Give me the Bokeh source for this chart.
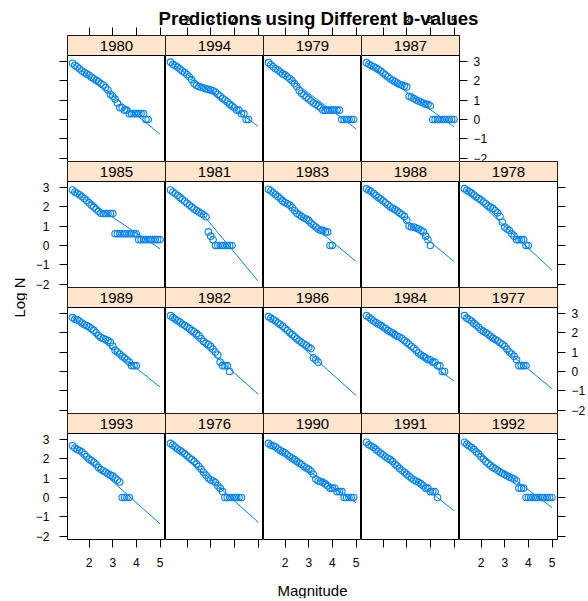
import math
from bokeh.plotting import figure
from bokeh.layouts import row, column
from bokeh.models import Range1d, FixedTicker, LinearAxis, BoxAnnotation, Label
from bokeh.embed import file_html
from bokeh.resources import INLINE

# ---------------- data ----------------
MAG = [1.3, 1.4, 1.5, 1.6, 1.7, 1.8, 1.9, 2.0, 2.1, 2.2, 2.3, 2.4, 2.5, 2.6, 2.7,
       2.8, 2.9, 3.0, 3.1, 3.2, 3.3, 3.4, 3.5, 3.6, 3.7, 3.8, 3.9, 4.0, 4.1, 4.2,
       4.3, 4.4, 4.5, 4.6, 4.7, 4.8, 4.9, 5.0]

logn_1980 = [2.9, 2.8, 2.72, 2.62, 2.5, 2.42, 2.35, 2.28, 2.18, 2.1, 2.02, 1.95, 1.85, 1.78,
             1.65, 1.52, 1.3, 1.2, 1.05, 0.85, 0.6, 0.6, 0.48, 0.48, 0.3, 0.3, 0.3, 0.3, 0.3,
             0.3, 0.3, 0.0, 0.0]
logn_1994 = [2.96, 2.85, 2.78, 2.7, 2.6, 2.5, 2.42, 2.32, 2.2, 2.05, 1.85, 1.75, 1.7, 1.66,
             1.62, 1.58, 1.55, 1.52, 1.48, 1.42, 1.3, 1.2, 1.08, 1.0, 0.9, 0.78, 0.7, 0.6,
             0.48, 0.48, 0.3, 0.3, 0.0, 0.0]
logn_1979 = [2.93, 2.82, 2.72, 2.62, 2.55, 2.45, 2.35, 2.3, 2.2, 2.1, 2.0, 1.85, 1.7, 1.5,
             1.35, 1.25, 1.15, 1.05, 0.95, 0.85, 0.78, 0.7, 0.6, 0.48, 0.48, 0.48, 0.48,
             0.48, 0.48, 0.48, 0.48, 0.0, 0.0, 0.0, 0.0, 0.0, 0.0]
logn_1987 = [2.93, 2.85, 2.78, 2.72, 2.65, 2.58, 2.5, 2.4, 2.3, 2.2, 2.1, 2.02, 1.95, 1.88,
             1.82, 1.77, 1.72, 1.68, 1.2, 1.15, 1.08, 1.0, 0.95, 0.9, 0.85, 0.78, 0.78, 0.7,
             0.0, 0.0, 0.0, 0.0, 0.0, 0.0, 0.0, 0.0, 0.0, 0.0]
logn_1985 = [2.86, 2.76, 2.69, 2.62, 2.52, 2.42, 2.32, 2.2, 2.08, 1.98, 1.88, 1.76, 1.66,
             1.65, 1.65, 1.65, 1.65, 1.65, 0.6, 0.6, 0.6, 0.6, 0.6, 0.6, 0.6, 0.6, 0.6, 0.6,
             0.3, 0.3, 0.3, 0.3, 0.3, 0.3, 0.3, 0.3, 0.3, 0.3]
logn_1981 = [2.86, 2.76, 2.68, 2.58, 2.48, 2.38, 2.28, 2.18, 2.08, 1.98, 1.88, 1.8, 1.72,
             1.65, 1.58, 1.48, 0.7, 0.48, 0.3, 0.0, 0.0, 0.0, 0.0, 0.0, 0.0, 0.0, 0.0]
logn_1983 = [2.9, 2.82, 2.72, 2.62, 2.52, 2.42, 2.3, 2.22, 2.15, 2.08, 1.95, 1.8, 1.66, 1.58,
             1.5, 1.42, 1.36, 1.28, 1.15, 1.05, 0.95, 0.85, 0.78, 0.78, 0.7, 0.7, 0.0, 0.0]
logn_1988 = [2.92, 2.85, 2.78, 2.68, 2.58, 2.48, 2.4, 2.3, 2.2, 2.1, 2.0, 1.92, 1.85, 1.78,
             1.68, 1.6, 1.5, 1.3, 1.0, 0.95, 0.95, 0.9, 0.85, 0.78, 0.7, 0.48, 0.3, 0.0]
logn_1978 = [2.93, 2.85, 2.78, 2.7, 2.6, 2.5, 2.42, 2.35, 2.25, 2.15, 2.05, 1.98, 1.9, 1.8,
             1.68, 1.5, 1.2, 0.95, 0.85, 0.78, 0.6, 0.48, 0.3, 0.3, 0.3, 0.3, 0.0, 0.0]
logn_1989 = [2.78, 2.7, 2.66, 2.6, 2.5, 2.42, 2.36, 2.3, 2.2, 2.12, 2.0, 1.85, 1.75, 1.7,
             1.65, 1.6, 1.5, 1.3, 1.1, 1.0, 0.9, 0.78, 0.7, 0.6, 0.48, 0.3, 0.3, 0.3]
logn_1982 = [2.88, 2.78, 2.7, 2.62, 2.55, 2.45, 2.38, 2.3, 2.22, 2.12, 2.05, 1.95, 1.85, 1.7,
             1.55, 1.45, 1.4, 1.3, 1.15, 1.0, 0.85, 0.48, 0.3, 0.3, 0.3, 0.0]
logn_1986 = [2.83, 2.75, 2.68, 2.6, 2.5, 2.42, 2.33, 2.22, 2.12, 2.0, 1.9, 1.8, 1.68, 1.58,
             1.5, 1.42, 1.35, 1.25, 1.18, 0.7, 0.6, 0.48]
logn_1984 = [2.88, 2.8, 2.7, 2.6, 2.52, 2.45, 2.38, 2.3, 2.22, 2.12, 2.05, 1.98, 1.9, 1.82,
             1.78, 1.7, 1.6, 1.5, 1.4, 1.3, 1.2, 1.08, 0.95, 0.85, 0.78, 0.7, 0.6, 0.6, 0.48,
             0.48, 0.3, 0.3, 0.0, 0.0]
logn_1977 = [2.88, 2.75, 2.68, 2.6, 2.48, 2.38, 2.28, 2.15, 2.08, 2.0, 1.92, 1.82, 1.72, 1.65,
             1.58, 1.48, 1.4, 1.3, 1.15, 1.0, 0.9, 0.78, 0.6, 0.3, 0.3, 0.3, 0.3]
logn_1993 = [2.67, 2.55, 2.48, 2.42, 2.35, 2.22, 2.1, 1.98, 1.9, 1.82, 1.7, 1.55, 1.45, 1.38,
             1.3, 1.22, 1.15, 1.1, 1.0, 0.9, 0.8, 0.0, 0.0, 0.0, 0.0]
logn_1976 = [2.79, 2.7, 2.6, 2.5, 2.42, 2.35, 2.25, 2.15, 2.05, 1.95, 1.85, 1.72, 1.6, 1.45,
             1.3, 1.15, 1.0, 0.9, 0.85, 0.78, 0.6, 0.48, 0.3, 0.0, 0.0, 0.0, 0.0, 0.0, 0.0,
             0.0, 0.0]
logn_1990 = [2.79, 2.7, 2.66, 2.6, 2.5, 2.42, 2.35, 2.3, 2.2, 2.1, 2.02, 1.95, 1.85, 1.78,
             1.7, 1.6, 1.52, 1.45, 1.35, 1.2, 0.95, 0.85, 0.82, 0.78, 0.7, 0.6, 0.48, 0.48,
             0.48, 0.3, 0.3, 0.3, 0.0, 0.0, 0.0, 0.0, 0.0]
logn_1991 = [2.85, 2.72, 2.65, 2.58, 2.48, 2.38, 2.28, 2.2, 2.1, 2.02, 1.95, 1.85, 1.72, 1.62,
             1.5, 1.4, 1.3, 1.2, 1.1, 1.0, 0.9, 0.85, 0.78, 0.7, 0.6, 0.48, 0.48, 0.3, 0.3,
             0.3, 0.0]
logn_1992 = [2.85, 2.75, 2.65, 2.58, 2.48, 2.35, 2.25, 2.1, 1.98, 1.85, 1.75, 1.65, 1.55, 1.48,
             1.4, 1.32, 1.25, 1.18, 1.12, 1.05, 1.0, 0.95, 0.85, 0.48, 0.48, 0.48, 0.0, 0.0,
             0.0, 0.0, 0.0, 0.0, 0.0, 0.0, 0.0, 0.0, 0.0, 0.0]

LOGN = {1980: logn_1980, 1994: logn_1994, 1979: logn_1979, 1987: logn_1987,
        1985: logn_1985, 1981: logn_1981, 1983: logn_1983, 1988: logn_1988, 1978: logn_1978,
        1989: logn_1989, 1982: logn_1982, 1986: logn_1986, 1984: logn_1984, 1977: logn_1977,
        1993: logn_1993, 1976: logn_1976, 1990: logn_1990, 1991: logn_1991, 1992: logn_1992}

# predicted Gutenberg-Richter lines: log N = a - b * M
PRED_YEAR = [1980, 1994, 1979, 1987, 1985, 1981, 1983, 1988, 1978, 1989,
             1982, 1986, 1984, 1977, 1993, 1976, 1990, 1991, 1992]
PRED_A = [4.186, 4.109, 4.132, 4.093, 3.884, 5.52, 4.207, 4.211, 4.409, 4.038,
          4.262, 4.26, 4.027, 4.208, 4.086, 4.203, 3.855, 4.09, 4.007]
PRED_B = [0.989, 0.892, 0.924, 0.895, 0.811, 1.47, 1.005, 1.008, 1.138, 0.968,
          1.086, 1.1, 0.905, 1.022, 1.089, 1.095, 0.827, 0.954, 0.905]
PRED_M_START = [1.3, 1.3, 1.3, 1.3, 1.3, 2.6, 1.3, 1.3, 1.3, 1.3,
                1.3, 1.3, 1.3, 1.3, 1.3, 1.3, 1.3, 1.3, 1.3]
PRED_M_END = 5.0

PANEL_ROWS = [[1980, 1994, 1979, 1987],
              [1985, 1981, 1983, 1988, 1978],
              [1989, 1982, 1986, 1984, 1977],
              [1993, 1976, 1990, 1991, 1992]]

X_TICKS = [2, 3, 4, 5]
Y_TICKS = [-2, -1, 0, 1, 2, 3]

TITLE = "Predictions using Different b-values"
XLAB = "Magnitude"
YLAB = "Log N"

# ---------------- style / layout ----------------
BLUE = "#0080ff"
STRIP_FILL = "#ffe5cc"
FONT = "Liberation Sans"

X_LIM = (1.09, 5.23)
Y_LIM = (-2.17, 3.30)
FRAME_W = 98
PANEL_H = 106
STRIP_H = 20
Y_TOP = Y_LIM[1] + STRIP_H * (Y_LIM[1] - Y_LIM[0]) / PANEL_H

YLAB_W = 27
LEFT_B = 40
RIGHT_B = 28
TOP_B = 35
BOTTOM_B = 34
OVERLAP_B = 8          # transparent bottom border of rows 1-3, overlapped by next row
XLAB_H = 25
TOTAL_W = YLAB_W + LEFT_B + 5 * FRAME_W + RIGHT_B
TOTAL_H = TOP_B + 4 * (PANEL_H + STRIP_H) + BOTTOM_B + XLAB_H


def make_axis(side, show_labels):
    ticks = X_TICKS if side in ("above", "below") else Y_TICKS
    ax = LinearAxis(ticker=FixedTicker(ticks=ticks, minor_ticks=[]))
    ax.axis_line_color = None
    ax.major_tick_in = 0
    ax.major_tick_out = 8
    ax.major_tick_line_color = "black"
    ax.major_tick_line_width = 1
    ax.minor_tick_line_color = None
    ax.major_label_text_font = FONT
    ax.major_label_text_font_size = "12px"
    ax.major_label_text_color = "black" if show_labels else None
    ax.major_label_standoff = {"left": 10, "right": 6, "above": 3, "below": 10}[side]
    return ax


def make_panel(year, r, c, ncols):
    lb = LEFT_B if c == 0 else 0
    rb = RIGHT_B if c == ncols - 1 else 0
    tb = TOP_B if r == 0 else 0
    bb = BOTTOM_B if r == 3 else OVERLAP_B
    p = figure(frame_width=FRAME_W, frame_height=PANEL_H + STRIP_H,
               x_range=Range1d(*X_LIM), y_range=Range1d(Y_LIM[0], Y_TOP),
               x_axis_location=None, y_axis_location=None,
               toolbar_location=None, output_backend="svg",
               min_border_left=lb, min_border_right=rb,
               min_border_top=tb, min_border_bottom=bb,
               outline_line_color="black", outline_line_width=1,
               background_fill_color="white", border_fill_color=None)
    p.xgrid.visible = False
    p.ygrid.visible = False
    if r > 0:
        p.margin = (-OVERLAP_B, 0, 0, 0)

    # strip
    p.add_layout(BoxAnnotation(bottom=Y_LIM[1], top=Y_TOP, fill_color=STRIP_FILL,
                               fill_alpha=1.0, line_color="black", line_width=1,
                               line_alpha=1.0))
    p.add_layout(Label(x=(X_LIM[0] + X_LIM[1]) / 2, y=(Y_LIM[1] + Y_TOP) / 2,
                       text=str(year), text_align="center", text_baseline="middle",
                       text_font=FONT, text_font_size="15px", text_color="black"))

    vals = LOGN[year]
    p.scatter(MAG[:len(vals)], vals, marker="circle", size=6.5, fill_color=None,
              line_color=BLUE, line_width=1.1)

    i = PRED_YEAR.index(year)
    xs = [PRED_M_START[i], PRED_M_END]
    ys = [PRED_A[i] - PRED_B[i] * m for m in xs]
    p.line(xs, ys, line_color=BLUE, line_width=1)

    # axes (lattice alternating style)
    if c == 0:
        p.add_layout(make_axis("left", r in (1, 3)), "left")
    if c == ncols - 1:
        p.add_layout(make_axis("right", r in (0, 2)), "right")
    if r == 0:
        p.add_layout(make_axis("above", c in (1, 3)), "above")
    if r == 3:
        p.add_layout(make_axis("below", c in (0, 2, 4)), "below")
    return p


def blank_fig(w, h):
    f = figure(width=w, height=h, x_range=Range1d(0, w), y_range=Range1d(0, h),
               x_axis_location=None, y_axis_location=None,
               toolbar_location=None, output_backend="svg", min_border=0,
               outline_line_color=None, background_fill_color=None,
               border_fill_color=None)
    f.xgrid.visible = False
    f.ygrid.visible = False
    return f


rows = []
for r, years in enumerate(PANEL_ROWS):
    figs = [make_panel(y, r, c, len(years)) for c, y in enumerate(years)]
    rows.append(row(figs, spacing=0))

ylab_fig = blank_fig(YLAB_W, TOTAL_H)
ylab_fig.add_layout(Label(x=18.5, y=TOTAL_H - 297, text=YLAB, angle=math.pi / 2,
                          text_align="center", text_baseline="middle", text_font=FONT,
                          text_font_size="15px", text_color="black"))

xlab_w = TOTAL_W - YLAB_W
xlab_fig = blank_fig(xlab_w, XLAB_H)
xlab_fig.add_layout(Label(x=LEFT_B + 5 * FRAME_W / 2, y=XLAB_H - 17, text=XLAB,
                          text_align="center", text_baseline="middle", text_font=FONT,
                          text_font_size="15px", text_color="black"))

title_fig = blank_fig(TOTAL_W, TOP_B)
title_fig.add_layout(Label(x=318, y=TOP_B - 18, text=TITLE, text_align="center",
                           text_baseline="middle", text_font=FONT,
                           text_font_size="18.7px", text_font_style="bold",
                           text_color="black"))

grid = column(rows + [xlab_fig], spacing=0)
body = row(ylab_fig, grid, spacing=0)
title_fig.margin = (-TOTAL_H, 0, 0, 0)   # overlay the title on top of the upper axis area
page = column(body, title_fig, spacing=0)

open("out.html", "w").write(file_html(page, INLINE, title="b-values"))
